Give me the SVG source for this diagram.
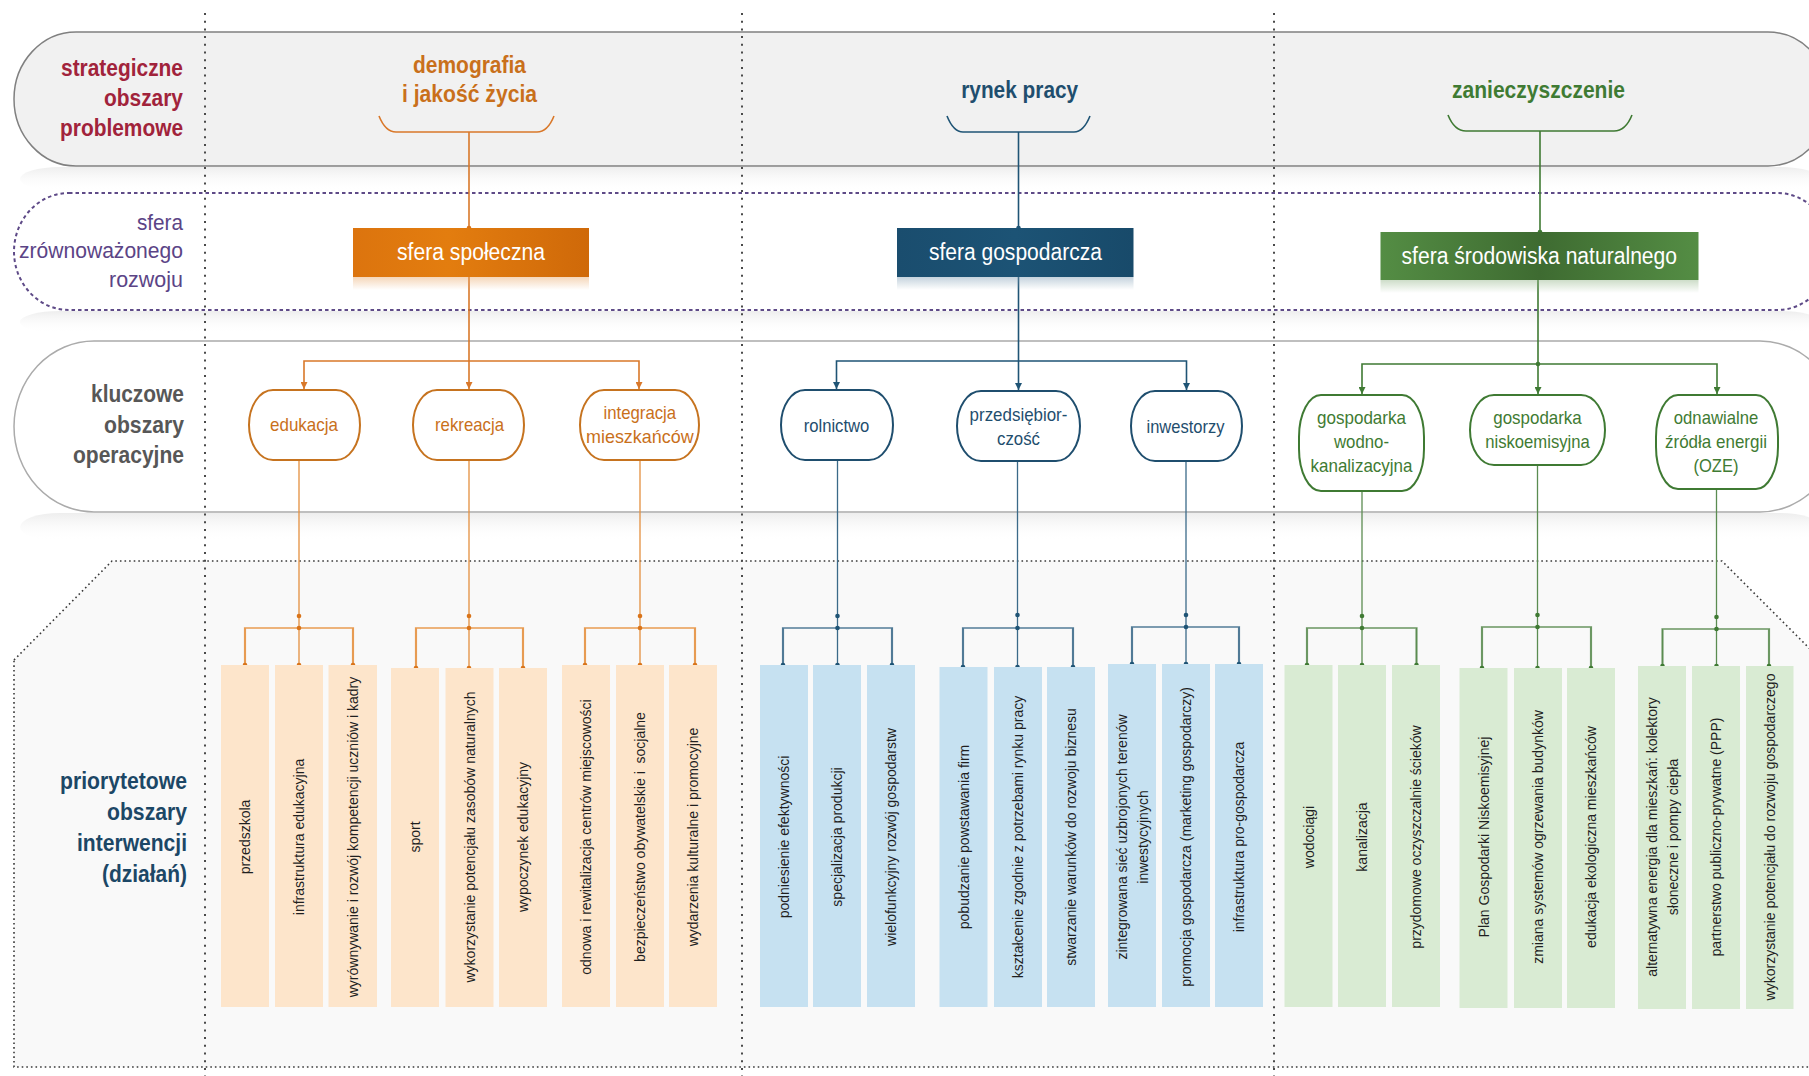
<svg xmlns="http://www.w3.org/2000/svg" width="1809" height="1076" viewBox="0 0 1809 1076">
<defs>
<style>
text{font-family:"Liberation Sans",Arial,sans-serif;}
.rl{font-size:23px;font-weight:bold;text-anchor:end;}
.r1{fill:#A1233B;}
.r2{fill:#5B4486;font-weight:normal;font-size:22px;}
.r3{fill:#575757;}
.r4{fill:#1C4766;}
.ttl{font-size:24px;font-weight:bold;text-anchor:middle;}
.sph{font-size:23px;fill:#fff;text-anchor:middle;}
.nt{font-size:19px;text-anchor:middle;}
.vt{font-size:14px;fill:#1f1f1f;text-anchor:middle;}
.o{fill:#C9701B;}
.b{fill:#1F4E6E;}
.g{fill:#3F7B33;}
.nodeO{fill:#fff;stroke:#C6731F;stroke-width:2;}
.nodeB{fill:#fff;stroke:#1F4E6E;stroke-width:2;}
.nodeG{fill:#fff;stroke:#3F7A33;stroke-width:2;}
.boxO{fill:#FDE5CB;}
.boxB{fill:#C6E1F1;}
.boxG{fill:#D9EBD3;}
.lnO{fill:none;stroke:#D9782A;stroke-width:1.6;}
.lnO2{fill:none;stroke:#E48F3E;stroke-width:1.3;}
.busO{fill:none;stroke:#EDB37B;stroke-width:2.2;}
.lnB{fill:none;stroke:#1F5475;stroke-width:1.6;}
.lnB2{fill:none;stroke:#3B6A89;stroke-width:1.3;}
.busB{fill:none;stroke:#7C9BB0;stroke-width:2.2;}
.lnG{fill:none;stroke:#3F7A33;stroke-width:1.6;}
.lnG2{fill:none;stroke:#5B8C51;stroke-width:1.3;}
.busG{fill:none;stroke:#8DAE86;stroke-width:2.2;}
.dO{fill:#D9741A;}
.dB{fill:#1F5475;}
.dG{fill:#3F7A33;}
.colsep{stroke:#4a4a4a;stroke-width:2;stroke-dasharray:2 5.7;fill:none;}
</style>
<linearGradient id="gO" x1="0" x2="1" y1="0" y2="0">
<stop offset="0" stop-color="#DC740E"/><stop offset="0.4" stop-color="#E37D0F"/><stop offset="1" stop-color="#CF6909"/>
</linearGradient>
<linearGradient id="gB" x1="0" x2="1" y1="0" y2="0">
<stop offset="0" stop-color="#1A4D6E"/><stop offset="0.5" stop-color="#1C5375"/><stop offset="1" stop-color="#184A6A"/>
</linearGradient>
<linearGradient id="gG" x1="0" x2="1" y1="0" y2="0">
<stop offset="0" stop-color="#548D44"/><stop offset="0.5" stop-color="#3E6B31"/><stop offset="1" stop-color="#548D44"/>
</linearGradient>
<linearGradient id="shO" x1="0" x2="0" y1="0" y2="1"><stop offset="0" stop-color="#E9A564" stop-opacity="0.45"/><stop offset="1" stop-color="#E9A564" stop-opacity="0"/></linearGradient>
<linearGradient id="shB" x1="0" x2="0" y1="0" y2="1"><stop offset="0" stop-color="#7E9DB4" stop-opacity="0.45"/><stop offset="1" stop-color="#7E9DB4" stop-opacity="0"/></linearGradient>
<linearGradient id="shG" x1="0" x2="0" y1="0" y2="1"><stop offset="0" stop-color="#91B487" stop-opacity="0.45"/><stop offset="1" stop-color="#91B487" stop-opacity="0"/></linearGradient>
<linearGradient id="refl" x1="0" x2="0" y1="0" y2="1"><stop offset="0" stop-color="#E6E6E6" stop-opacity="0.7"/><stop offset="1" stop-color="#FFFFFF" stop-opacity="0"/></linearGradient>
<marker id="arO" viewBox="0 0 10 10" refX="5" refY="10" markerWidth="7" markerHeight="7" markerUnits="userSpaceOnUse" orient="0"><path d="M0,0 L10,0 L5,10 Z" fill="#D9782A"/></marker>
<marker id="arB" viewBox="0 0 10 10" refX="5" refY="10" markerWidth="7" markerHeight="7" markerUnits="userSpaceOnUse" orient="0"><path d="M0,0 L10,0 L5,10 Z" fill="#1F5475"/></marker>
<marker id="arG" viewBox="0 0 10 10" refX="5" refY="10" markerWidth="7" markerHeight="7" markerUnits="userSpaceOnUse" orient="0"><path d="M0,0 L10,0 L5,10 Z" fill="#3F7A33"/></marker>
</defs>
<rect width="1809" height="1076" fill="#fff"/>

<g id="bands">
<rect x="20" y="167" width="1800" height="24" rx="40" fill="url(#refl)"/>
<rect x="20" y="311" width="1800" height="22" rx="40" fill="url(#refl)"/>
<rect x="20" y="513" width="1800" height="28" rx="40" fill="url(#refl)"/>
<rect id="band-problem" x="14" y="32" width="1816" height="134" rx="62" ry="67" fill="#F1F1F1" stroke="#808080" stroke-width="1.5"/>
<rect id="band-sfera" x="14" y="193" width="1818" height="117" rx="55" ry="58.5" fill="#fff" stroke="#5E4A87" stroke-width="2" stroke-dasharray="3.5 3"/>
<rect id="band-kluczowe" x="14" y="341" width="1826" height="171" rx="80" ry="85.5" fill="#fff" stroke="#ABABAB" stroke-width="1.5"/>
<path id="band-priorytetowe" d="M14,660 L112,561 L1722,561 L1834,673 L1834,1067 L14,1067 Z" fill="#F9F9F9" stroke="#3a3a3a" stroke-width="1.6" stroke-dasharray="1.6 3"/>
</g>

<g id="column-separators">
<line class="colsep" x1="205" y1="13" x2="205" y2="1076"/>
<line class="colsep" x1="742" y1="13" x2="742" y2="1076"/>
<line class="colsep" x1="1274" y1="13" x2="1274" y2="1076"/>
</g>

<g id="row-labels">
<text class="rl r1" x="183" y="76" textLength="122" lengthAdjust="spacingAndGlyphs">strategiczne</text>
<text class="rl r1" x="183" y="106" textLength="79" lengthAdjust="spacingAndGlyphs">obszary</text>
<text class="rl r1" x="183" y="136" textLength="123" lengthAdjust="spacingAndGlyphs">problemowe</text>
<text class="rl r2" x="183" y="230" textLength="46" lengthAdjust="spacingAndGlyphs">sfera</text>
<text class="rl r2" x="183" y="258" textLength="164" lengthAdjust="spacingAndGlyphs">zrównoważonego</text>
<text class="rl r2" x="183" y="287" textLength="74" lengthAdjust="spacingAndGlyphs">rozwoju</text>
<text class="rl r3" x="184" y="402" textLength="93" lengthAdjust="spacingAndGlyphs">kluczowe</text>
<text class="rl r3" x="184" y="433" textLength="80" lengthAdjust="spacingAndGlyphs">obszary</text>
<text class="rl r3" x="184" y="463" textLength="111" lengthAdjust="spacingAndGlyphs">operacyjne</text>
<text class="rl r4" x="187" y="789" textLength="127" lengthAdjust="spacingAndGlyphs">priorytetowe</text>
<text class="rl r4" x="187" y="820" textLength="80" lengthAdjust="spacingAndGlyphs">obszary</text>
<text class="rl r4" x="187" y="851" textLength="110" lengthAdjust="spacingAndGlyphs">interwencji</text>
<text class="rl r4" x="187" y="882" textLength="85" lengthAdjust="spacingAndGlyphs">(działań)</text>
</g>

<g id="connectors">
<path class="lnO" d="M379,116 C383,126 388,132 396,132 H537 C545,132 550,126 554,116"/>
<path class="lnO" d="M469,132 V228"/>
<circle class="dO" cx="469" cy="228" r="2.3"/>
<path class="lnO" d="M469,277 V389" marker-end="url(#arO)"/>
<path class="lnO" d="M469,361 H304 V389" marker-end="url(#arO)"/>
<path class="lnO" d="M469,361 H639 V389" marker-end="url(#arO)"/>
<path class="lnO2" d="M299,460 V665"/>
<path class="busO" d="M245,665 V628 H353 V665"/>
<path class="lnO2" d="M245,628 V665 M353,628 V665"/>
<circle class="dO" cx="299" cy="616" r="2.3"/><circle class="dO" cx="299" cy="628" r="2.3"/>
<circle class="dO" cx="245" cy="665" r="2.3"/><circle class="dO" cx="299" cy="665" r="2.3"/><circle class="dO" cx="353" cy="665" r="2.3"/>
<path class="lnO2" d="M469,460 V668"/>
<path class="busO" d="M416,668 V628 H523 V668"/>
<path class="lnO2" d="M416,628 V668 M523,628 V668"/>
<circle class="dO" cx="469" cy="616" r="2.3"/><circle class="dO" cx="469" cy="628" r="2.3"/>
<circle class="dO" cx="416" cy="668" r="2.3"/><circle class="dO" cx="469" cy="668" r="2.3"/><circle class="dO" cx="523" cy="668" r="2.3"/>
<path class="lnO2" d="M640,460 V665"/>
<path class="busO" d="M585,665 V628 H695 V665"/>
<path class="lnO2" d="M585,628 V665 M695,628 V665"/>
<circle class="dO" cx="640" cy="616" r="2.3"/><circle class="dO" cx="640" cy="628" r="2.3"/>
<circle class="dO" cx="585" cy="665" r="2.3"/><circle class="dO" cx="640" cy="665" r="2.3"/><circle class="dO" cx="695" cy="665" r="2.3"/>
<path class="lnB" d="M947,116 C951,126 956,132 963,132 H1074 C1081,132 1086,126 1090,116"/>
<path class="lnB" d="M1018.5,132 V228"/>
<circle class="dB" cx="1018.5" cy="228" r="2.3"/>
<path class="lnB" d="M1018.5,277 V390" marker-end="url(#arB)"/>
<path class="lnB" d="M1018.5,361 H836.5 V389" marker-end="url(#arB)"/>
<path class="lnB" d="M1018.5,361 H1186.5 V390" marker-end="url(#arB)"/>
<path class="lnB2" d="M837.5,460 V665"/>
<path class="busB" d="M783,665 V628 H892 V665"/>
<path class="lnB2" d="M783,628 V665 M892,628 V665"/>
<circle class="dB" cx="837.5" cy="616" r="2.3"/><circle class="dB" cx="837.5" cy="628" r="2.3"/>
<circle class="dB" cx="783" cy="665" r="2.3"/><circle class="dB" cx="837.5" cy="665" r="2.3"/><circle class="dB" cx="892" cy="665" r="2.3"/>
<path class="lnB2" d="M1017.5,461 V667"/>
<path class="busB" d="M963,667 V628 H1073 V667"/>
<path class="lnB2" d="M963,628 V667 M1073,628 V667"/>
<circle class="dB" cx="1017.5" cy="615" r="2.3"/><circle class="dB" cx="1017.5" cy="628" r="2.3"/>
<circle class="dB" cx="963" cy="667" r="2.3"/><circle class="dB" cx="1017.5" cy="667" r="2.3"/><circle class="dB" cx="1073" cy="667" r="2.3"/>
<path class="lnB2" d="M1186,461 V664"/>
<path class="busB" d="M1132,664 V627 H1239 V664"/>
<path class="lnB2" d="M1132,627 V664 M1239,627 V664"/>
<circle class="dB" cx="1186" cy="615" r="2.3"/><circle class="dB" cx="1186" cy="627" r="2.3"/>
<circle class="dB" cx="1132" cy="664" r="2.3"/><circle class="dB" cx="1186" cy="664" r="2.3"/><circle class="dB" cx="1239" cy="664" r="2.3"/>
<path class="lnG" d="M1448,115 C1452,125 1458,131 1466,131 H1614 C1622,131 1628,125 1632,115"/>
<path class="lnG" d="M1540,131 V232"/>
<circle class="dG" cx="1540" cy="232" r="2.3"/>
<path class="lnG" d="M1538,280 V394" marker-end="url(#arG)"/>
<path class="lnG" d="M1538,364 H1362 V394" marker-end="url(#arG)"/>
<path class="lnG" d="M1538,364 H1717 V394" marker-end="url(#arG)"/>
<circle class="dG" cx="1538" cy="364" r="2.3"/>
<path class="lnG2" d="M1362,491 V665"/>
<path class="busG" d="M1307,665 V628 H1416.5 V665"/>
<path class="lnG2" d="M1307,628 V665 M1416.5,628 V665"/>
<circle class="dG" cx="1362" cy="616" r="2.3"/><circle class="dG" cx="1362" cy="628" r="2.3"/>
<circle class="dG" cx="1307" cy="665" r="2.3"/><circle class="dG" cx="1362" cy="665" r="2.3"/><circle class="dG" cx="1416.5" cy="665" r="2.3"/>
<path class="lnG2" d="M1537.5,465 V668"/>
<path class="busG" d="M1482,668 V627 H1591 V668"/>
<path class="lnG2" d="M1482,627 V668 M1591,627 V668"/>
<circle class="dG" cx="1537.5" cy="615" r="2.3"/><circle class="dG" cx="1537.5" cy="627" r="2.3"/>
<circle class="dG" cx="1482" cy="668" r="2.3"/><circle class="dG" cx="1537.5" cy="668" r="2.3"/><circle class="dG" cx="1591" cy="668" r="2.3"/>
<path class="lnG2" d="M1716.5,489 V666"/>
<path class="busG" d="M1662.5,666 V629 H1769 V666"/>
<path class="lnG2" d="M1662.5,629 V666 M1769,629 V666"/>
<circle class="dG" cx="1716.5" cy="617" r="2.3"/><circle class="dG" cx="1716.5" cy="629" r="2.3"/>
<circle class="dG" cx="1662.5" cy="666" r="2.3"/><circle class="dG" cx="1716.5" cy="666" r="2.3"/><circle class="dG" cx="1769" cy="666" r="2.3"/>
</g>

<g id="title-demografia"><text class="ttl o" x="469.5" y="73" textLength="113" lengthAdjust="spacingAndGlyphs">demografia</text><text class="ttl o" x="469.5" y="102" textLength="135" lengthAdjust="spacingAndGlyphs">i jakość życia</text></g>
<g id="title-rynek"><text class="ttl b" x="1019.7" y="98" textLength="117" lengthAdjust="spacingAndGlyphs">rynek pracy</text></g>
<g id="title-zanieczyszczenie"><text class="ttl g" x="1538.5" y="98" textLength="173" lengthAdjust="spacingAndGlyphs">zanieczyszczenie</text></g>

<g id="sfera-spoleczna">
<rect x="353" y="277" width="236" height="13" fill="url(#shO)"/>
<rect x="353" y="228" width="236" height="49" fill="url(#gO)"/>
<text class="sph" x="471" y="260" textLength="148" lengthAdjust="spacingAndGlyphs">sfera społeczna</text>
</g>
<g id="sfera-gospodarcza">
<rect x="897" y="277" width="236.5" height="13" fill="url(#shB)"/>
<rect x="897" y="228" width="236.5" height="49" fill="url(#gB)"/>
<text class="sph" x="1015.4" y="260" textLength="173" lengthAdjust="spacingAndGlyphs">sfera gospodarcza</text>
</g>
<g id="sfera-srodowiska">
<rect x="1380.5" y="280" width="318" height="13" fill="url(#shG)"/>
<rect x="1380.5" y="232" width="318" height="48" fill="url(#gG)"/>
<text class="sph" x="1539.3" y="264" textLength="275.5" lengthAdjust="spacingAndGlyphs">sfera środowiska naturalnego</text>
</g>

<g id="node-edukacja"><rect class="nodeO" x="249" y="390" width="111" height="70" rx="24" ry="35"/><text class="nt o" x="304" y="431" textLength="68" lengthAdjust="spacingAndGlyphs">edukacja</text></g>
<g id="node-rekreacja"><rect class="nodeO" x="413" y="390" width="111" height="70" rx="24" ry="35"/><text class="nt o" x="469.5" y="431" textLength="69" lengthAdjust="spacingAndGlyphs">rekreacja</text></g>
<g id="node-integracja"><rect class="nodeO" x="580" y="390" width="119" height="70" rx="24" ry="35"/><text class="nt o" x="639.8" y="419" textLength="72.7" lengthAdjust="spacingAndGlyphs">integracja</text><text class="nt o" x="639.8" y="443" textLength="107.6" lengthAdjust="spacingAndGlyphs">mieszkańców</text></g>
<g id="node-rolnictwo"><rect class="nodeB" x="781" y="390" width="112" height="70" rx="24" ry="35"/><text class="nt b" x="836.5" y="432" textLength="65.7" lengthAdjust="spacingAndGlyphs">rolnictwo</text></g>
<g id="node-przedsiebiorczosc"><rect class="nodeB" x="957" y="391" width="123" height="70" rx="24" ry="35"/><text class="nt b" x="1018.5" y="421" textLength="97.8" lengthAdjust="spacingAndGlyphs">przedsiębior-</text><text class="nt b" x="1018.5" y="445" textLength="43" lengthAdjust="spacingAndGlyphs">czość</text></g>
<g id="node-inwestorzy"><rect class="nodeB" x="1131" y="391" width="111" height="70" rx="24" ry="35"/><text class="nt b" x="1185.5" y="433" textLength="78" lengthAdjust="spacingAndGlyphs">inwestorzy</text></g>
<g id="node-wodno"><rect class="nodeG" x="1299" y="395" width="125" height="96" rx="22" ry="42"/><text class="nt g" x="1361.5" y="424" textLength="89" lengthAdjust="spacingAndGlyphs">gospodarka</text><text class="nt g" x="1361.5" y="448" textLength="55" lengthAdjust="spacingAndGlyphs">wodno-</text><text class="nt g" x="1361.5" y="472" textLength="102" lengthAdjust="spacingAndGlyphs">kanalizacyjna</text></g>
<g id="node-niskoemisyjna"><rect class="nodeG" x="1470" y="395" width="135" height="70" rx="24" ry="35"/><text class="nt g" x="1537.5" y="424" textLength="88.4" lengthAdjust="spacingAndGlyphs">gospodarka</text><text class="nt g" x="1537.5" y="448" textLength="104.6" lengthAdjust="spacingAndGlyphs">niskoemisyjna</text></g>
<g id="node-oze"><rect class="nodeG" x="1656" y="395" width="122" height="94" rx="22" ry="42"/><text class="nt g" x="1716" y="424" textLength="84.4" lengthAdjust="spacingAndGlyphs">odnawialne</text><text class="nt g" x="1716" y="448" textLength="102" lengthAdjust="spacingAndGlyphs">źródła energii</text><text class="nt g" x="1716" y="472" textLength="45" lengthAdjust="spacingAndGlyphs">(OZE)</text></g>

<g id="act-przedszkola"><rect class="boxO" x="221" y="665" width="48" height="342"/><text class="vt" transform="translate(245,837) rotate(-90)" dy="5">przedszkola</text></g>
<g id="act-infrastruktura-edukacyjna"><rect class="boxO" x="275" y="665" width="48" height="342"/><text class="vt" transform="translate(299,837) rotate(-90)" dy="5">infrastruktura edukacyjna</text></g>
<g id="act-wyrownywanie"><rect class="boxO" x="328.5" y="665" width="48.5" height="342"/><text class="vt" transform="translate(352.5,837) rotate(-90)" dy="5">wyrównywanie i rozwój kompetencji uczniów i kadry</text></g>
<g id="act-sport"><rect class="boxO" x="391" y="668" width="48" height="339"/><text class="vt" transform="translate(415,837) rotate(-90)" dy="5">sport</text></g>
<g id="act-zasoby"><rect class="boxO" x="445.5" y="668" width="48" height="339"/><text class="vt" transform="translate(469.5,837) rotate(-90)" dy="5">wykorzystanie potencjału zasobów naturalnych</text></g>
<g id="act-wypoczynek"><rect class="boxO" x="499" y="668" width="48" height="339"/><text class="vt" transform="translate(523,837) rotate(-90)" dy="5">wypoczynek edukacyjny</text></g>
<g id="act-odnowa"><rect class="boxO" x="562" y="665" width="48" height="342"/><text class="vt" transform="translate(586,837) rotate(-90)" dy="5">odnowa i rewitalizacja centrów miejscowości</text></g>
<g id="act-bezpieczenstwo"><rect class="boxO" x="616" y="665" width="48" height="342"/><text class="vt" transform="translate(640,837) rotate(-90)" dy="5">bezpieczeństwo obywatelskie i &#160;socjalne</text></g>
<g id="act-wydarzenia"><rect class="boxO" x="669" y="665" width="48" height="342"/><text class="vt" transform="translate(693,837) rotate(-90)" dy="5">wydarzenia kulturalne i promocyjne</text></g>

<g id="act-efektywnosc"><rect class="boxB" x="760" y="665" width="48" height="342"/><text class="vt" transform="translate(784,837) rotate(-90)" dy="5">podniesienie efektywności</text></g>
<g id="act-specjalizacja"><rect class="boxB" x="813" y="665" width="48" height="342"/><text class="vt" transform="translate(837,837) rotate(-90)" dy="5">specjalizacja produkcji</text></g>
<g id="act-wielofunkcyjny"><rect class="boxB" x="867" y="665" width="48" height="342"/><text class="vt" transform="translate(891,837) rotate(-90)" dy="5">wielofunkcyjny rozwój gospodarstw</text></g>
<g id="act-firmy"><rect class="boxB" x="939.5" y="667" width="48" height="340"/><text class="vt" transform="translate(963.5,837) rotate(-90)" dy="5">pobudzanie powstawania firm</text></g>
<g id="act-ksztalcenie"><rect class="boxB" x="994" y="667" width="48" height="340"/><text class="vt" transform="translate(1018,837) rotate(-90)" dy="5">kształcenie zgodnie z potrzebami rynku pracy</text></g>
<g id="act-biznes"><rect class="boxB" x="1047" y="667" width="48" height="340"/><text class="vt" transform="translate(1071,837) rotate(-90)" dy="5">stwarzanie warunków do rozwoju biznesu</text></g>
<g id="act-tereny"><rect class="boxB" x="1108" y="664" width="48" height="343"/><text class="vt" transform="translate(1122,837) rotate(-90)" dy="5">zintegrowana sieć uzbrojonych terenów</text><text class="vt" transform="translate(1143,837) rotate(-90)" dy="5">inwestycyjnych</text></g>
<g id="act-promocja"><rect class="boxB" x="1162" y="664" width="48" height="343"/><text class="vt" transform="translate(1186,837) rotate(-90)" dy="5">promocja gospodarcza (marketing gospodarczy)</text></g>
<g id="act-infrastruktura-pro"><rect class="boxB" x="1215" y="664" width="48" height="343"/><text class="vt" transform="translate(1239,837) rotate(-90)" dy="5">infrastruktura pro-gospodarcza</text></g>

<g id="act-wodociagi"><rect class="boxG" x="1284.5" y="665" width="48" height="342"/><text class="vt" transform="translate(1308.5,837) rotate(-90)" dy="5">wodociągi</text></g>
<g id="act-kanalizacja"><rect class="boxG" x="1338" y="665" width="48" height="342"/><text class="vt" transform="translate(1362,837) rotate(-90)" dy="5">kanalizacja</text></g>
<g id="act-oczyszczalnie"><rect class="boxG" x="1392" y="665" width="48" height="342"/><text class="vt" transform="translate(1416,837) rotate(-90)" dy="5">przydomowe oczyszczalnie ścieków</text></g>
<g id="act-plan"><rect class="boxG" x="1459.5" y="668" width="48" height="340"/><text class="vt" transform="translate(1483.5,837) rotate(-90)" dy="5">Plan Gospodarki Niskoemisyjnej</text></g>
<g id="act-ogrzewanie"><rect class="boxG" x="1514" y="668" width="48" height="340"/><text class="vt" transform="translate(1538,837) rotate(-90)" dy="5">zmiana systemów ogrzewania budynków</text></g>
<g id="act-edukacja-eko"><rect class="boxG" x="1567" y="668" width="48" height="340"/><text class="vt" transform="translate(1591,837) rotate(-90)" dy="5">edukacja ekologiczna mieszkańców</text></g>
<g id="act-alternatywna"><rect class="boxG" x="1638" y="666" width="48" height="343"/><text class="vt" transform="translate(1652,837) rotate(-90)" dy="5">alternatywna energia dla mieszkań: kolektory</text><text class="vt" transform="translate(1673,837) rotate(-90)" dy="5">słoneczne i pompy ciepła</text></g>
<g id="act-ppp"><rect class="boxG" x="1692" y="666" width="48" height="343"/><text class="vt" transform="translate(1716,837) rotate(-90)" dy="5">partnerstwo publiczno-prywatne (PPP)</text></g>
<g id="act-potencjal"><rect class="boxG" x="1746" y="666" width="47.5" height="343"/><text class="vt" transform="translate(1769.5,837) rotate(-90)" dy="5">wykorzystanie potencjału do rozwoju gospodarczego</text></g>
</svg>
